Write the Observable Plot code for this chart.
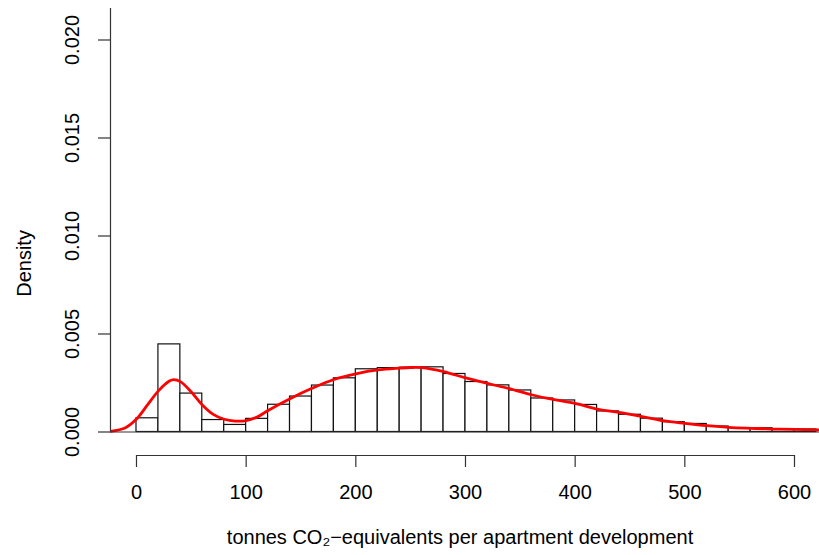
<!DOCTYPE html>
<html>
<head>
<meta charset="utf-8">
<script src="https://cdn.jsdelivr.net/npm/d3@7"></script>
<script src="https://cdn.jsdelivr.net/npm/@observablehq/plot@0.6"></script>
<style>
  html, body { margin: 0; padding: 0; background: #fff; }
  #chart { width: 819px; height: 555px; }
</style>
</head>
<body>
<div id="chart"></div>
<script>
// Histogram bins (lower edge, width 20) and density heights
const binLower = [0, 20, 40, 60, 80, 100, 120, 140, 160, 180, 200, 220, 240, 260, 280, 300,
  320, 340, 360, 380, 400, 420, 440, 460, 480, 500, 520, 540, 560, 580, 600];
const binWidth = 20;
const binDensity = [0.00070, 0.00447, 0.00196, 0.00061, 0.00036, 0.00067, 0.00139, 0.00181,
  0.00237, 0.00274, 0.00320, 0.00326, 0.00328, 0.00330, 0.00296, 0.00255, 0.00238, 0.00212,
  0.00171, 0.00161, 0.00138, 0.00105, 0.00088, 0.00068, 0.00050, 0.00041, 0.00028, 0.00019,
  0.00019, 0.00014, 0.00013];

// Kernel density curve
const curveX = [-24, -10, 0, 10, 20, 30, 34, 40, 50, 60, 70, 80, 90, 100, 110, 120, 140, 160,
  180, 200, 220, 240, 250, 260, 280, 300, 320, 340, 360, 380, 400, 420, 440, 460, 480, 500,
  520, 540, 560, 580, 600, 623];
const curveDensity = [0.00003, 0.00022, 0.00066, 0.00138, 0.00210, 0.00260, 0.00267, 0.00257,
  0.00204, 0.00138, 0.00090, 0.00065, 0.00056, 0.00058, 0.00076, 0.00110, 0.00170, 0.00223,
  0.00268, 0.00297, 0.00317, 0.00326, 0.00329, 0.00328, 0.00308, 0.00276, 0.00248, 0.00221,
  0.00190, 0.00166, 0.00146, 0.00117, 0.00100, 0.00080, 0.00058, 0.00044, 0.00032, 0.00024,
  0.00019, 0.00015, 0.00013, 0.00011];

const xTicks = [0, 100, 200, 300, 400, 500, 600];
const xTickLabels = ["0", "100", "200", "300", "400", "500", "600"];
const yTicks = [0, 0.005, 0.010, 0.015, 0.020];
const yTickLabels = ["0.000", "0.005", "0.010", "0.015", "0.020"];
const xTitle = "tonnes CO\u2082\u2212equivalents per apartment development";
const yTitle = "Density";

const xMin = -23.7, xMax = 622.8;
const yTop = 0.021607, yBottom = -0.001199;

const bins = binLower.map((x, i) => ({x1: x, x2: x + binWidth, y: binDensity[i]}));
const curve = curveX.map((x, i) => ({x, y: curveDensity[i]}));

const font = "'Liberation Sans', Arial, Helvetica, sans-serif";
const fs = 20;

const chart = Plot.plot({
  width: 819,
  height: 555,
  marginLeft: 110,
  marginRight: 0,
  marginTop: 8,
  marginBottom: 100,
  style: {fontFamily: font, fontSize: fs + "px", background: "white", color: "black"},
  x: {domain: [xMin, xMax], axis: null},
  y: {domain: [yBottom, yTop], axis: null},
  marks: [
    Plot.rectY(bins, {x1: "x1", x2: "x2", y1: 0, y2: "y", fill: "white", stroke: "#111", strokeWidth: 1.2}),
    Plot.line(curve, {x: "x", y: "y", stroke: "#ff0000", strokeWidth: 2.8, curve: "catmull-rom", clip: true}),
    // L-shaped box
    Plot.ruleX([xMin], {x: d => d, y1: 0, y2: yTop, stroke: "#333", strokeWidth: 1.2}),
    Plot.ruleY([0], {y: d => d, x1: xMin, x2: xMax, stroke: "#333", strokeWidth: 1.2}),
    // x axis
    Plot.ruleY([yBottom], {y: d => d, x1: xTicks[0], x2: xTicks[xTicks.length - 1], stroke: "#333", strokeWidth: 1.2}),
    Plot.ruleX(xTicks, {x: d => d, y1: yBottom, y2: yBottom, insetBottom: -12, stroke: "#333", strokeWidth: 1.2}),
    Plot.text(xTicks, {x: d => d, text: (d, i) => xTickLabels[i], frameAnchor: "bottom", dy: 37, lineAnchor: "middle", fontSize: fs, fill: "black"}),
    // y axis
    Plot.ruleY(yTicks, {y: d => d, x1: xMin, x2: xMin, insetLeft: -12, stroke: "#333", strokeWidth: 1.2}),
    Plot.text(yTicks, {y: d => d, text: (d, i) => yTickLabels[i], frameAnchor: "left", dx: -38, rotate: -90, textAnchor: "middle", lineAnchor: "middle", fontSize: fs, fill: "black"}),
    // titles
    Plot.text([xTitle], {text: d => d, frameAnchor: "bottom", dy: 82, lineAnchor: "middle", fontSize: fs, fill: "black", x: () => 295}),
    Plot.text([yTitle], {text: d => d, frameAnchor: "left", dx: -86, y: () => 0.0086, rotate: -90, textAnchor: "middle", lineAnchor: "middle", fontSize: fs, fill: "black"})
  ]
});
document.getElementById("chart").appendChild(chart);
</script>
</body>
</html>
